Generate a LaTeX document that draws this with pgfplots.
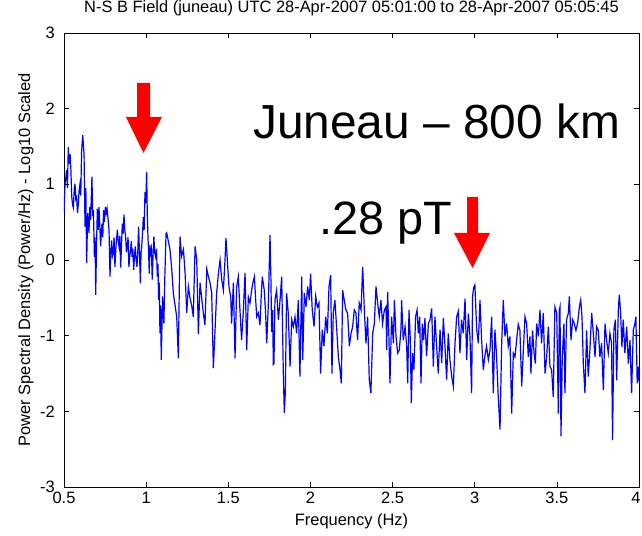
\documentclass[border=0pt]{standalone}
\usepackage{fontspec}
\setmainfont{Liberation Sans}
\usepackage{pgfplots}
\pgfplotsset{compat=1.18}
\begin{document}
\begin{tikzpicture}[x=1bp,y=1bp]
\path[use as bounding box] (-64,-49) rectangle (578,487);
\begin{axis}[
  at={(0,0)}, anchor=south west,
  scale only axis, width=575bp, height=454bp,
  xmin=0.5, xmax=4, ymin=-3, ymax=3,
  xtick={0.5,1,1.5,2,2.5,3,3.5,4},
  xticklabels={0.5,1,1.5,2,2.5,3,3.5,{\hspace*{-6bp}4}},
  ytick={-3,-2,-1,0,1,2,3},
  yticklabels={-3,-2,-1,0,1,2,3},
  xtick pos=both, ytick pos=both,
  xticklabel pos=lower, yticklabel pos=left,
  tick align=inside, major tick length=5bp,
  tick style={black, line width=0.7bp},
  axis line style={black, line width=0.8bp},
  font=\fontsize{16.5}{18}\selectfont,
  /pgf/number format/assume math mode=true,
  xticklabel style={anchor=base, yshift=-17bp, inner sep=0pt},
  yticklabel style={anchor=east, xshift=-9bp, inner sep=0pt},
  title={N-S B Field (juneau) UTC 28-Apr-2007 05:01:00 to 28-Apr-2007 05:05:45},
  title style={at={(axis description cs:0.5,1)}, anchor=base, yshift=15bp, inner sep=0pt},
  xlabel={Frequency (Hz)},
  xlabel style={at={(axis description cs:0.5,0)}, anchor=base, yshift=-39bp, inner sep=0pt},
  ylabel={Power Spectral Density (Power/Hz) - Log10 Scaled},
  ylabel style={at={(axis description cs:-0.0591,0.5)}, anchor=base, inner sep=0pt},
  clip=true,
]
\addplot[color={rgb,255:red,0;green,0;blue,255}, line width=1.2bp] coordinates {
(0.500,0.62) (0.506,0.99) (0.516,1.19) (0.521,0.95) (0.526,1.49) (0.531,1.27) (0.537,1.40) (0.542,1.19)
(0.547,0.84) (0.552,0.73) (0.557,0.69) (0.562,0.92) (0.567,1.01) (0.572,0.80) (0.577,0.83) (0.582,0.62)
(0.587,0.73) (0.592,0.92) (0.597,1.00) (0.602,0.85) (0.607,1.43) (0.614,1.65) (0.622,1.40) (0.628,0.44)
(0.633,0.95) (0.638,-0.04) (0.644,0.62) (0.652,0.36) (0.657,0.70) (0.662,0.53) (0.670,1.10) (0.675,0.58)
(0.679,0.66) (0.685,0.04) (0.689,0.30) (0.693,-0.46) (0.698,0.20) (0.703,0.68) (0.708,0.40) (0.713,0.70)
(0.718,0.45) (0.723,0.18) (0.727,0.35) (0.731,0.48) (0.736,0.30) (0.741,0.66) (0.746,0.50) (0.752,0.70)
(0.757,0.62) (0.762,0.68) (0.768,0.55) (0.774,0.40) (0.780,-0.22) (0.785,0.10) (0.790,0.26) (0.795,0.05)
(0.800,0.09) (0.805,0.30) (0.810,-0.09) (0.817,0.20) (0.825,0.40) (0.830,0.25) (0.835,0.18) (0.840,0.32)
(0.845,-0.10) (0.850,0.20) (0.855,0.48) (0.860,0.35) (0.865,0.60) (0.870,0.40) (0.875,0.31) (0.880,0.10)
(0.885,0.18) (0.890,0.30) (0.895,-0.09) (0.900,0.05) (0.905,0.13) (0.910,0.25) (0.914,0.04) (0.919,0.15)
(0.924,-0.13) (0.929,0.05) (0.934,0.18) (0.939,0.00) (0.944,-0.09) (0.949,0.10) (0.954,0.44) (0.960,0.05)
(0.965,-0.31) (0.969,0.10) (0.973,0.18) (0.978,0.35) (0.983,0.57) (0.988,0.40) (0.993,0.90) (0.998,0.75)
(1.003,1.16) (1.007,0.60) (1.011,0.31) (1.015,0.10) (1.019,-0.18) (1.023,0.20) (1.027,0.09) (1.032,0.15)
(1.037,-0.26) (1.042,0.05) (1.047,0.31) (1.052,0.10) (1.058,0.04) (1.063,0.15) (1.068,-0.22) (1.072,-0.05)
(1.076,-0.53) (1.080,-0.30) (1.084,-0.97) (1.088,-0.60) (1.092,-1.32) (1.096,-0.90) (1.100,-0.48) (1.104,-0.70)
(1.108,-0.84) (1.114,-0.20) (1.121,0.35)
(1.125,0.36) (1.145,0.14) (1.155,-0.10) (1.166,-0.45) (1.176,-0.60) (1.186,-0.75) (1.196,-1.30) (1.206,0.31)
(1.216,0.05) (1.227,0.14) (1.237,-0.17) (1.247,-0.70) (1.257,-0.35) (1.267,-0.50) (1.277,-0.60) (1.287,-0.75)
(1.298,0.18) (1.308,0.00) (1.318,-0.98) (1.328,-0.30) (1.338,-0.50) (1.348,-0.70) (1.358,-0.86) (1.369,-0.12)
(1.379,-0.22) (1.389,-0.30) (1.399,-0.44) (1.409,-1.43) (1.419,-0.95) (1.429,-0.44) (1.440,-0.17) (1.450,0.00)
(1.460,-0.26) (1.470,-0.40) (1.480,0.00) (1.486,0.29) (1.496,-0.07) (1.504,-0.35) (1.515,-0.49) (1.520,-0.84)
(1.531,-0.30) (1.541,-1.30) (1.551,-0.35) (1.561,-0.22) (1.571,-0.66) (1.581,-1.06) (1.592,-0.66) (1.602,-0.17)
(1.612,-1.19) (1.622,-0.49) (1.632,-0.57) (1.642,-0.40) (1.650,-0.30) (1.659,-0.22) (1.666,-0.50) (1.673,-0.75)
(1.683,-0.70) (1.693,-0.86) (1.700,-0.50) (1.707,-0.22) (1.719,-0.40) (1.727,-0.70) (1.734,-1.10) (1.744,-0.57)
(1.749,-0.10) (1.754,0.33) (1.759,-0.20) (1.764,-0.95) (1.770,-0.66) (1.774,-1.38)
(1.778,-1.37) (1.784,-0.53) (1.794,-0.40) (1.805,-0.79) (1.815,-0.53) (1.825,-0.22) (1.835,-1.50) (1.841,-2.02)
(1.847,-1.76) (1.855,-0.44) (1.865,-0.70) (1.876,-1.41) (1.886,-0.79) (1.896,-0.88) (1.906,-0.75) (1.916,-0.97)
(1.926,-0.53) (1.936,-1.54) (1.947,-0.22) (1.953,-1.32) (1.963,-0.44) (1.973,-0.62) (1.983,-0.35) (1.993,-0.53)
(2.001,-0.18) (2.011,-0.66) (2.022,-0.88) (2.032,-0.48) (2.042,-0.62) (2.052,-0.57) (2.062,-1.50) (2.072,-0.92)
(2.082,-1.14) (2.093,-0.75) (2.103,-0.97) (2.113,-0.35) (2.123,-0.20) (2.131,-1.50) (2.139,-0.70) (2.149,-0.53)
(2.159,-0.88) (2.170,-1.28) (2.180,-1.45) (2.188,-1.63) (2.196,-0.40) (2.206,-0.53) (2.216,-0.66) (2.226,-0.70)
(2.237,-1.14) (2.247,-0.97) (2.257,-0.88) (2.267,-0.66) (2.277,-0.70) (2.287,-1.06) (2.297,-0.57) (2.308,-0.66)
(2.318,-0.09) (2.328,-0.66) (2.338,-1.10) (2.348,-0.75) (2.358,-1.58) (2.368,-1.76) (2.379,-0.97) (2.389,-0.84)
(2.399,-0.35) (2.409,-0.57) (2.419,-0.75) (2.429,-0.53) (2.439,-0.84) (2.450,-0.66) (2.460,-0.62)
(2.464,-1.19) (2.470,-0.42) (2.478,-1.06) (2.484,-1.63) (2.494,-0.75) (2.505,-1.10) (2.511,-0.53) (2.521,-1.01)
(2.531,-1.23) (2.541,-1.19) (2.551,-0.92) (2.555,-0.53) (2.565,-1.06) (2.576,-0.88) (2.586,-1.14) (2.592,-1.63)
(2.600,-0.66) (2.608,-1.06) (2.614,-1.89) (2.622,-1.23) (2.630,-1.45) (2.640,-0.75) (2.649,-0.66) (2.657,-0.97)
(2.665,-0.75) (2.673,-1.63) (2.681,-0.84) (2.689,-1.06) (2.697,-0.77) (2.707,-1.27) (2.718,-0.84) (2.728,-0.79)
(2.738,-0.64) (2.748,-1.41) (2.758,-0.75) (2.768,-1.14) (2.778,-1.50) (2.789,-0.92) (2.799,-1.36) (2.809,-0.77)
(2.819,-1.14) (2.829,-1.58) (2.839,-0.97) (2.849,-1.32) (2.860,-1.54) (2.870,-1.67) (2.880,-1.10) (2.890,-0.75)
(2.900,-0.68) (2.910,-1.23) (2.920,-0.79) (2.930,-0.97) (2.941,-0.51) (2.951,-1.32) (2.961,-0.71) (2.971,-1.01)
(2.981,-1.76) (2.987,-0.48) (2.993,-0.37) (3.001,-0.33) (3.012,-0.92) (3.022,-1.10) (3.032,-0.53) (3.042,-1.06)
(3.052,-1.45) (3.062,-1.27) (3.072,-1.14) (3.083,-1.32) (3.093,-1.19) (3.103,-0.75) (3.113,-1.76) (3.123,-0.92)
(3.133,-1.27) (3.143,-1.80) (3.154,-2.24) (3.164,-1.10) (3.174,-0.53) (3.184,-1.01) (3.194,-0.84) (3.204,-1.14)
(3.214,-1.01)
(3.225,-2.03) (3.235,-1.23) (3.245,-1.28) (3.255,-1.06) (3.265,-0.85) (3.275,-0.93) (3.286,-1.67) (3.296,-1.19)
(3.306,-0.75) (3.316,-0.84) (3.326,-1.28) (3.336,-1.01) (3.342,-1.50) (3.352,-0.93) (3.361,-1.23) (3.369,-1.37)
(3.377,-0.84) (3.387,-1.01) (3.397,-0.66) (3.407,-1.10) (3.417,-0.70) (3.428,-1.50) (3.438,-1.28) (3.448,-0.88)
(3.458,-1.41) (3.468,-1.45) (3.478,-1.81) (3.488,-0.62) (3.499,-0.70) (3.509,-2.03) (3.515,-0.66) (3.519,-0.62)
(3.525,-2.33) (3.533,-1.28) (3.543,-0.84) (3.549,-1.76) (3.559,-0.79) (3.570,-0.70) (3.576,-0.48) (3.586,-1.06)
(3.596,-0.79) (3.606,-0.84) (3.616,-0.93) (3.626,-0.84) (3.637,-0.62) (3.645,-0.53) (3.653,-0.75) (3.661,-1.37)
(3.671,-1.76) (3.681,-0.93) (3.691,-1.54) (3.701,-1.19) (3.712,-0.70) (3.722,-0.97) (3.732,-1.28) (3.742,-0.88)
(3.752,-0.93) (3.762,-1.28) (3.772,-1.10) (3.783,-1.72) (3.793,-0.84) (3.803,-1.06) (3.813,-1.23) (3.823,-0.97)
(3.833,-1.10) (3.839,-2.38) (3.847,-0.93) (3.856,-0.79) (3.864,-1.59) (3.874,-0.66) (3.880,-0.46) (3.888,-0.70)
(3.896,-1.15) (3.904,-0.79) (3.914,-1.23) (3.925,-0.88) (3.935,-1.37) (3.945,-1.06) (3.955,-1.76) (3.965,-0.93)
(3.975,-0.84) (3.981,-0.75) (3.989,-1.63) (3.996,-1.41) (4.000,-1.60)
};
\end{axis}
% red arrows (pixel positions relative to the axis' lower left corner)
\fill[red] (73,404) -- (86,404) -- (86,370) -- (98,370) -- (79.5,334) -- (62,370) -- (73,370) -- cycle;
\fill[red] (403,290) -- (414,290) -- (414,254) -- (426,254) -- (408.5,219) -- (390,254) -- (403,254) -- cycle;
\node[anchor=base west, inner sep=0pt, font=\fontsize{48}{50}\selectfont] at (189,348) {Juneau – 800 km};
\node[anchor=base west, inner sep=0pt, font=\fontsize{47}{50}\selectfont] at (255,252) {.28 pT};
\end{tikzpicture}
\end{document}
